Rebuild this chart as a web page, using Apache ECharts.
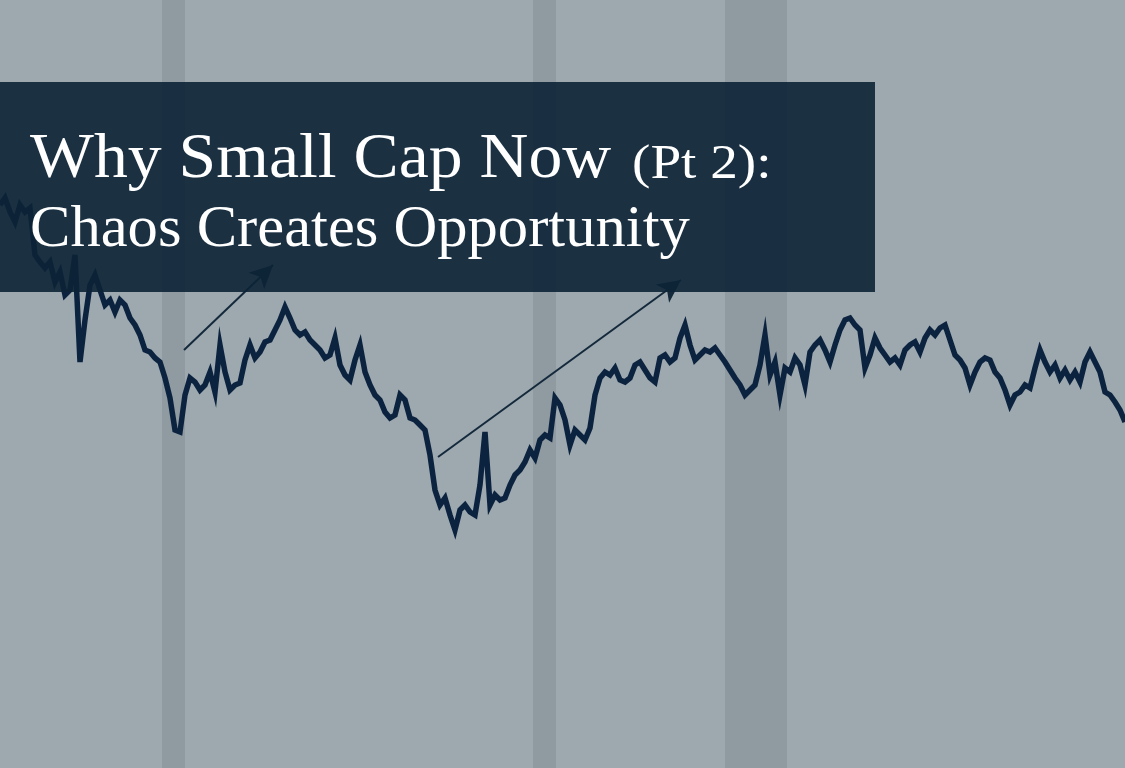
<!DOCTYPE html>
<html>
<head>
<meta charset="utf-8">
<script src="https://cdn.jsdelivr.net/npm/echarts@6/dist/echarts.min.js"></script>
<style>
html,body{margin:0;padding:0;background:#9ea9af;}
#chart{width:1125px;height:768px;}
</style>
</head>
<body>
<div id="chart"></div>
<script>
// Relative performance level (one point per step)
const levels = [
563,570,556,546,563,556,560,513,506,500,506,486,496,473,478,513,406,448,483,493,
478,463,468,456,468,463,450,443,433,418,416,410,406,390,370,338,336,373,390,386,
378,383,396,376,423,396,378,383,385,408,423,410,416,426,428,438,448,461,450,438,
433,436,428,423,418,410,413,430,403,393,388,408,423,396,383,373,368,356,350,353,
373,368,350,348,343,338,313,278,263,270,253,238,258,263,256,253,283,336,263,273,
268,270,283,293,298,306,318,310,328,333,330,370,363,348,323,338,333,328,340,373,
390,396,393,400,388,386,390,403,406,398,390,386,410,413,406,410,430,443,423,408,
413,418,416,420,413,406,398,390,383,373,378,383,403,433,393,406,373,400,396,410,
403,383,416,423,428,418,406,423,438,448,450,443,438,400,413,430,420,413,406,410,
403,418,423,426,416,430,438,433,440,443,428,413,408,400,383,396,406,410,408,396,
390,378,363,373,376,383,380,400,418,406,396,403,390,398,388,396,386,406,416,406,
396,376,373,366,358,346
];
// Bands (shaded periods) in the same step units as the series
const bands = [[32.4, 37.0], [106.6, 111.2], [145.0, 157.4]];
// Annotation arrows: [startStep, startLevel, endStep, endLevel]
const arrows = [[36.8, 418, 54.6, 503], [87.6, 311, 136.2, 488]];
const titleLine1 = 'Why Small Cap Now';
const titleNote = '(Pt 2):';
const titleLine2 = 'Chaos Creates Opportunity';

const seriesData = levels.map((v, i) => [i, v]);

const chart = echarts.init(document.getElementById('chart'), null, {renderer: 'canvas'});
chart.setOption({
  backgroundColor: '#9ea9af',
  animation: false,
  grid: {left: 0, right: 0, top: 0, bottom: 0},
  xAxis: {type: 'value', min: 0, max: levels.length - 1, show: false},
  yAxis: {type: 'value', min: 0, max: 768, show: false},
  series: [
    {
      type: 'line', data: [], silent: true,
      markArea: {
        silent: true,
        itemStyle: {color: '#8f9aa1'},
        data: bands.map(b => [{xAxis: b[0]}, {xAxis: b[1]}])
      }
    },
    {
      type: 'line', data: seriesData, showSymbol: false, smooth: false,
      lineStyle: {color: '#0c2340', width: 5.5, join: 'miter'},
      z: 3,
      markLine: {
        silent: true,
        symbol: ['none', 'arrow'],
        symbolSize: [17, 23],
        lineStyle: {color: '#14293b', width: 2, type: 'solid'},
        itemStyle: {color: '#14293b'},
        label: {show: false},
        data: arrows.map(a => [{coord: [a[0], a[1]]}, {coord: [a[2], a[3]]}])
      }
    }
  ],
  graphic: [
    {type: 'rect', z: 100, shape: {x: 0, y: 82, width: 875, height: 210},
     style: {fill: 'rgba(12,36,54,0.9)'}},
    {type: 'text', z: 101, x: 30, y: 128.5, scaleX: 1.058,
     style: {text: titleLine1, fill: '#ffffff', font: '64px "Liberation Serif"', verticalAlign: 'top'}},
    {type: 'text', z: 101, x: 632, y: 141, scaleX: 1.15,
     style: {text: titleNote, fill: '#ffffff', font: '48px "Liberation Serif"', verticalAlign: 'top'}},
    {type: 'text', z: 101, x: 30, y: 200.5, scaleX: 1.01,
     style: {text: titleLine2, fill: '#ffffff', font: '60px "Liberation Serif"', verticalAlign: 'top'}}
  ]
});
</script>
</body>
</html>
